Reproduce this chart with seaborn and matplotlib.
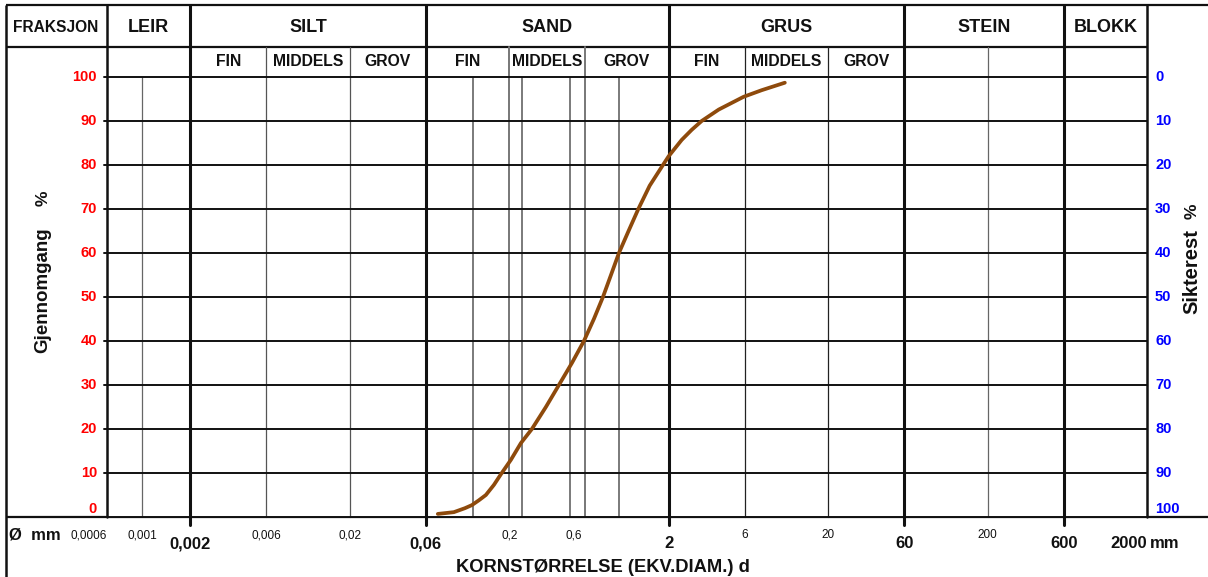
import matplotlib
matplotlib.use("Agg")
import matplotlib.pyplot as plt
import matplotlib.transforms as mtrans
import seaborn as sns
import pandas as pd

# Sieve analysis: grain diameter (mm) and cumulative percent passing
grain_mm = [0.0713, 0.0899, 0.1054, 0.1166, 0.129, 0.1427, 0.1603, 0.1772, 0.2049,
            0.2367, 0.2774, 0.3395, 0.4098, 0.4944, 0.588, 0.679, 0.774, 0.869,
            0.975, 1.12, 1.29, 1.52, 1.841, 2.0, 2.413, 2.79, 3.22, 4.12, 5.9,
            7.66, 10.7]
passing_pct = [0.7, 1.1, 2.0, 2.7, 3.8, 5.0, 7.3, 9.7, 13.0,
               16.8, 20, 25, 30, 35, 40, 45, 50, 55,
               60, 65, 70, 75.3, 80, 82, 85.7, 88.0, 90.0, 92.6, 95.5,
               97.0, 98.7]

# Fraction classes and their boundaries (mm)
fractions = ["LEIR", "SILT", "SAND", "GRUS", "STEIN", "BLOKK"]
fraction_bounds = [0.0006, 0.002, 0.06, 2, 60, 600, 2000]
sub_names = ["FIN", "MIDDELS", "GROV"]
sub_bounds = {
    "SILT": [0.002, 0.006, 0.02, 0.06],
    "SAND": [0.06, 0.2, 0.6, 2],
    "GRUS": [2, 6, 20, 60],
}
stein_split = [200]
leir_split = [0.001]
sieve_sizes = [0.118, 0.24, 0.48, 0.98]

pass_ticks = list(range(0, 101, 10))
minor_tick_mm = [0.0006, 0.001, 0.006, 0.02, 0.2, 0.6, 6, 20, 200]
minor_tick_txt = ["0,0006", "0,001", "0,006", "0,02", "0,2", "0,6", "6", "20", "200"]
major_tick_mm = [0.002, 0.06, 2, 60, 600, 2000]
major_tick_txt = ["0,002", "0,06", "2", "60", "600", "2000"]

sns.set_style("white")
plt.rcParams["font.family"] = ["Liberation Sans", "DejaVu Sans"]

W, H = 1208, 577
P_LEFT, P_RIGHT, P_TOP, P_BOT = 107, 1147, 77, 517
fig = plt.figure(figsize=(W / 100, H / 100), dpi=100)
ax = fig.add_axes([P_LEFT / W, 1 - P_BOT / H, (P_RIGHT - P_LEFT) / W, (P_BOT - P_TOP) / H])


def ay(py):
    """pixel row -> axes fraction"""
    return (P_BOT - py) / (P_BOT - P_TOP)


def axx(px):
    """pixel column -> axes fraction"""
    return (px - P_LEFT) / (P_RIGHT - P_LEFT)


df = pd.DataFrame({"d": grain_mm, "p": passing_pct})
sns.lineplot(data=df, x="d", y="p", ax=ax, color="#8E4A0C", lw=2.7,
             estimator=None, zorder=6, solid_capstyle="round",
             solid_joinstyle="round")
ax.set_xscale("log")
ax.set_xlim(fraction_bounds[0], fraction_bounds[-1])
ax.set_ylim(0, 100)
ax.set_xticks([])
ax.set_xticks([], minor=True)
ax.set_yticks([])
ax.set_xlabel("")
ax.set_ylabel("")
for s in ax.spines.values():
    s.set_visible(False)

tx = mtrans.blended_transform_factory(ax.transData, ax.transAxes)
ty = mtrans.blended_transform_factory(ax.transAxes, ax.transData)

# horizontal grid every 10 %
for p in pass_ticks:
    ax.plot([-0.003, 1.0], [p, p], transform=ty, color="#111111", lw=1.4,
            clip_on=False, zorder=3)

# main fraction boundaries
for v in fraction_bounds[1:-1]:
    ax.plot([v, v], [ay(5), ay(525)], transform=tx, color="#111111", lw=2.2,
            clip_on=False, zorder=4)
for v in (fraction_bounds[0], fraction_bounds[-1]):
    ax.plot([v, v], [ay(5), ay(P_BOT)], transform=tx, color="#111111", lw=1.8,
            clip_on=False, zorder=4)

# sub-fraction boundaries (run through header row 2)
for name, bnds in sub_bounds.items():
    col = "#777777" if name == "SAND" else ("#555555" if name == "SILT" else "#222222")
    lw = 1.4 if name == "SAND" else 0.9
    for v in bnds[1:-1]:
        ax.plot([v, v], [ay(47), ay(P_BOT)], transform=tx, color=col, lw=lw,
                clip_on=False, zorder=2)
for v in stein_split:
    ax.plot([v, v], [ay(47), ay(P_BOT)], transform=tx, color="#666666", lw=0.9,
            clip_on=False, zorder=2)
for v in leir_split:
    ax.plot([v, v], [1, 0], transform=tx, color="#666666", lw=0.9, zorder=2)
for v in sieve_sizes:
    ax.plot([v, v], [1, 0], transform=tx, color="#7a7a7a", lw=1.4, zorder=2)

# header labels
hdr = dict(ha="center", va="center", transform=tx, fontweight="bold", color="#111111")
for i, name in enumerate(fractions):
    lo, hi = fraction_bounds[i], fraction_bounds[i + 1]
    ax.text((lo * hi) ** 0.5, ay(27), name, fontsize=13, **hdr)
for name, bnds in sub_bounds.items():
    for j, sub in enumerate(sub_names):
        lo, hi = bnds[j], bnds[j + 1]
        ax.text((lo * hi) ** 0.5, ay(62), sub, fontsize=11.3, **hdr)

# left (passing) and right (retained) percentage labels
for p in pass_ticks:
    off = 8 if p == 0 else 0
    t = mtrans.offset_copy(ty, fig=fig, y=off, units="dots")
    ax.text(axx(97), p, str(p), transform=t, ha="right", va="center",
            color="#FF0000", fontsize=10.5, fontweight="bold")
    t2 = mtrans.offset_copy(ty, fig=fig, y=off, units="dots")
    ax.text(axx(1155), p, str(100 - p), transform=t2, ha="left", va="center",
            color="#0000FF", fontsize=10.5, fontweight="bold")

# grain size labels along the bottom
label_shift = {"0,6": -12}
for v, s in zip(minor_tick_mm, minor_tick_txt):
    ha = "right" if v == fraction_bounds[0] else "center"
    t = mtrans.offset_copy(tx, fig=fig, x=label_shift.get(s, 0), units="dots")
    ax.text(v, ay(535), s, transform=t, ha=ha, va="center", fontsize=8.5,
            color="#111111")
for v, s in zip(major_tick_mm, major_tick_txt):
    ha = "right" if v == fraction_bounds[-1] else "center"
    ax.text(v, ay(544), s, transform=tx, ha=ha, va="center", fontsize=12,
            fontweight="bold", color="#111111")

# outer frame and header rows
ov = fig.add_axes([0, 0, 1, 1], zorder=-1)
ov.set_xlim(0, W)
ov.set_ylim(H, 0)
ov.axis("off")
frame = dict(color="#111111", solid_capstyle="butt")
ov.plot([6, W], [5, 5], lw=1.6, **frame)
ov.plot([6, P_RIGHT], [47, 47], lw=1.6, **frame)
ov.plot([6, 6], [5, H], lw=1.8, **frame)
ov.plot([6, W], [P_BOT, P_BOT], lw=1.6, **frame)

txt = dict(color="#111111", fontweight="bold")
ov.text(56, 28, "FRAKSJON", ha="center", va="center", fontsize=11.2, **txt)
ov.text(9, 535, "Ø  mm", ha="left", va="center", fontsize=12, **txt)
ov.text(1150, 544, "mm", ha="left", va="center", fontsize=12, **txt)
ov.text(603, 567, "KORNSTØRRELSE (EKV.DIAM.) d", ha="center", va="center",
        fontsize=13.2, **txt)
ov.text(43, 290, "Gjennomgang", ha="center", va="center", rotation=90,
        fontsize=13.5, **txt)
ov.text(43, 198, "%", ha="center", va="center", rotation=90, fontsize=12.5, **txt)
ov.text(1192, 272, "Sikterest", ha="center", va="center", rotation=90,
        fontsize=14.5, **txt)
ov.text(1192, 211, "%", ha="center", va="center", rotation=90, fontsize=12.5, **txt)

fig.savefig("out.png", dpi=100)
